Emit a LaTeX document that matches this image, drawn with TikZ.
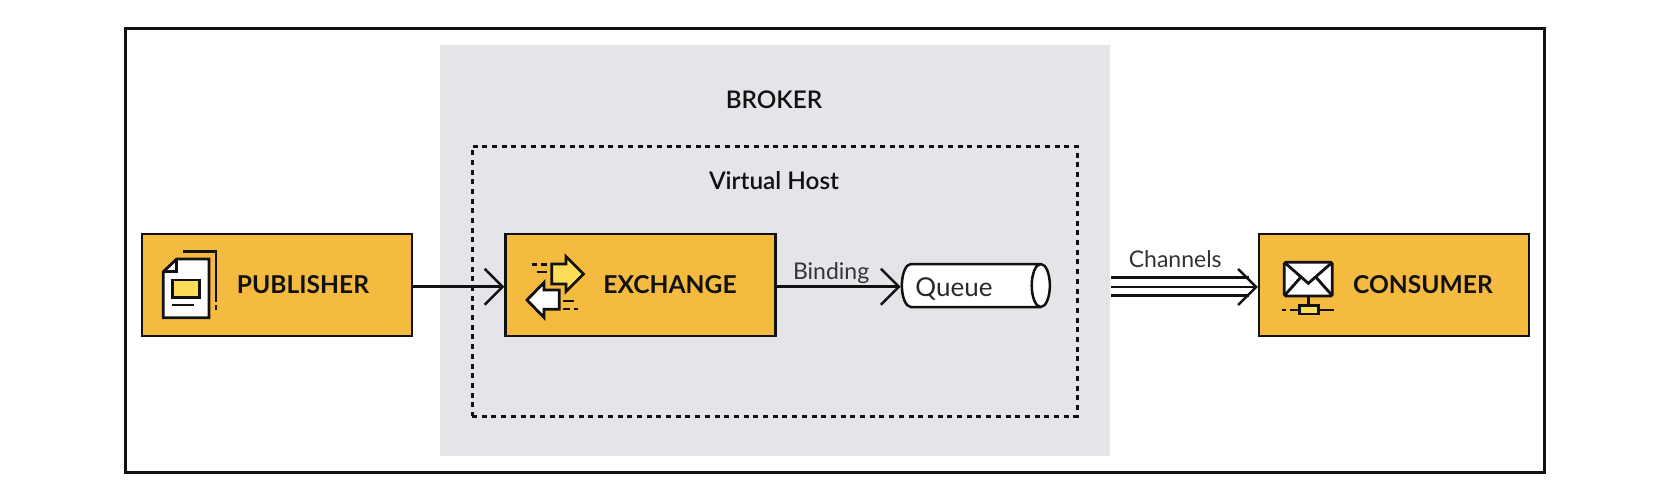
\documentclass[tikz,border=0pt]{standalone}
\usepackage{xcolor}
\usepackage{fontspec}
\setmainfont{Lato}
\newfontfamily\titlefont{Lato Semibold}
\usepackage{tikz}
\usetikzlibrary{shapes.geometric, arrows.meta, positioning}

\definecolor{boxorange}{HTML}{F5BB41}
\definecolor{iconyellow}{HTML}{FBDD57}
\definecolor{brokergray}{HTML}{E4E5E9}
\definecolor{inkblack}{HTML}{111111}
\definecolor{labelgray}{HTML}{333333}

\begin{document}
\begin{tikzpicture}[
    x=1pt, y=-1pt,
    box/.style={rectangle, draw=inkblack, fill=boxorange, line width=2.3pt, minimum width=270pt, minimum height=102pt},
    boxtext/.style={font=\fontsize{24.6}{28}\selectfont\bfseries, text=inkblack, inner sep=0pt},
    titletext/.style={font=\fontsize{24.3}{28}\selectfont\titlefont, text=inkblack, inner sep=0pt},
    linktext/.style={font=\fontsize{23}{27}\selectfont, text=labelgray, inner sep=0pt},
    arrow/.style={-{Straight Barb[length=18pt, width=36pt, line width=2.5pt]}, line width=2.5pt, draw=inkblack},
    wire/.style={line width=2.5pt, draw=inkblack},
    icon/.style={line width=2.8pt, draw=inkblack, line join=miter}
]
\useasboundingbox (0,0) rectangle (1655,503);

\node[rectangle, draw=inkblack, line width=3pt, minimum width=1419pt, minimum height=443pt] (outer) at (834.5,250.5) {};
\node[rectangle, fill=brokergray, minimum width=670.5pt, minimum height=411.5pt, inner sep=0pt] (broker) at (775.2,250.7) {};
\node[rectangle, draw=inkblack, line width=3pt, dash pattern=on 5pt off 4.7pt, minimum width=605pt, minimum height=270pt] (vhost) at (774.5,281) {};
\node[titletext] (brokerlabel) at (774,100) {BROKER};
\node[titletext] (vhostlabel) at (774,181) {Virtual Host};

\node[box] (publisher) at (277,285) {};
\node[box] (exchange) at (640.5,285) {};
\node[box] (consumer) at (1394,285) {};
\node[boxtext] (publisherlabel) at (303,284.5) {PUBLISHER};
\node[boxtext] (exchangelabel) at (670,284.5) {EXCHANGE};
\node[boxtext] (consumerlabel) at (1423,284.5) {CONSUMER};

\node[cylinder, draw=inkblack, fill=white, line width=2.5pt, shape aspect=0.8, minimum height=148pt, minimum width=43pt, inner sep=0pt, font=\fontsize{26}{30}\selectfont] (queue) at (970.7,285.5) {\phantom{Queue}};
\node[font=\fontsize{26}{30}\selectfont, text=inkblack!90, inner sep=0pt] (queuelabel) at (954,289) {Queue};

\coordinate (chanstart) at (broker.east |- 0,287);
\coordinate (chantop) at (broker.east |- 0,277.7);
\coordinate (chantopend) at (1249,277.7);
\coordinate (chanbot) at (broker.east |- 0,295.5);
\coordinate (chanbotend) at (1249,295.5);

\draw[arrow] ([yshift=-1.7pt]publisher.east) -- ([yshift=-1.7pt]exchange.west);
\draw[arrow] ([yshift=-1.7pt]exchange.east) -- node[linktext, above=2pt, xshift=-7.5pt] (bindinglabel) {Binding} (queue.west |- 0,286.7);
\draw[arrow] (chanstart) -- node[linktext, above=18pt, xshift=-9pt] (channelslabel) {Channels} (consumer.west |- 0,287);
\draw[wire] (chantop) -- (chantopend);
\draw[wire] (chanbot) -- (chanbotend);

% publisher icon
\draw[icon] (183.3,251.7) -- (216,251.7) -- (216,301.7);
\draw[icon] (216,305) -- (216,309.5);
\draw[icon, fill=white] (163.3,271.7) -- (176.7,259) -- (209,259) -- (209,317.7) -- (163.3,317.7) -- cycle;
\draw[icon] (176.7,259) -- (176.7,271.7) -- (163.3,271.7);
\draw[icon, fill=iconyellow] (172.7,280) rectangle (199.3,297.3);
\draw[icon] (171.7,305) -- (194,305);

% exchange icon
\draw[icon, fill=iconyellow] (551.7,264) -- (566,264) -- (566,256.5) -- (583.5,274) -- (566,291.5) -- (566,284) -- (551.7,284) -- cycle;
\draw[icon, fill=white] (559.3,290) -- (544,290) -- (544,282.5) -- (527,300) -- (544,317.5) -- (544,309.3) -- (559.3,309.3) -- cycle;
\draw[icon] (532.3,264.3) -- (536.7,264.3) (540.7,264.3) -- (547.3,264.3) (536.7,272) -- (547.3,272);
\draw[icon] (563.3,301) -- (574.3,301) (563.3,309) -- (570,309) (574,309) -- (577.7,309);

% consumer icon
\draw[icon, fill=white, rounded corners=1.5pt] (1284.3,262.3) rectangle (1332.3,296);
\draw[icon] (1284.3,262.3) -- (1308.3,283.3) -- (1332.3,262.3);
\draw[icon] (1285,295) -- (1300.7,277.3) (1331.7,295) -- (1316,277.3);
\draw[icon] (1308.3,296) -- (1308.3,305.7);
\draw[icon] (1282.3,310) -- (1285.7,310) (1290,310) -- (1299.3,310) (1318.3,310) -- (1334.3,310);
\draw[icon, fill=iconyellow] (1299.3,305.7) rectangle (1318.3,314);

\end{tikzpicture}
\end{document}
